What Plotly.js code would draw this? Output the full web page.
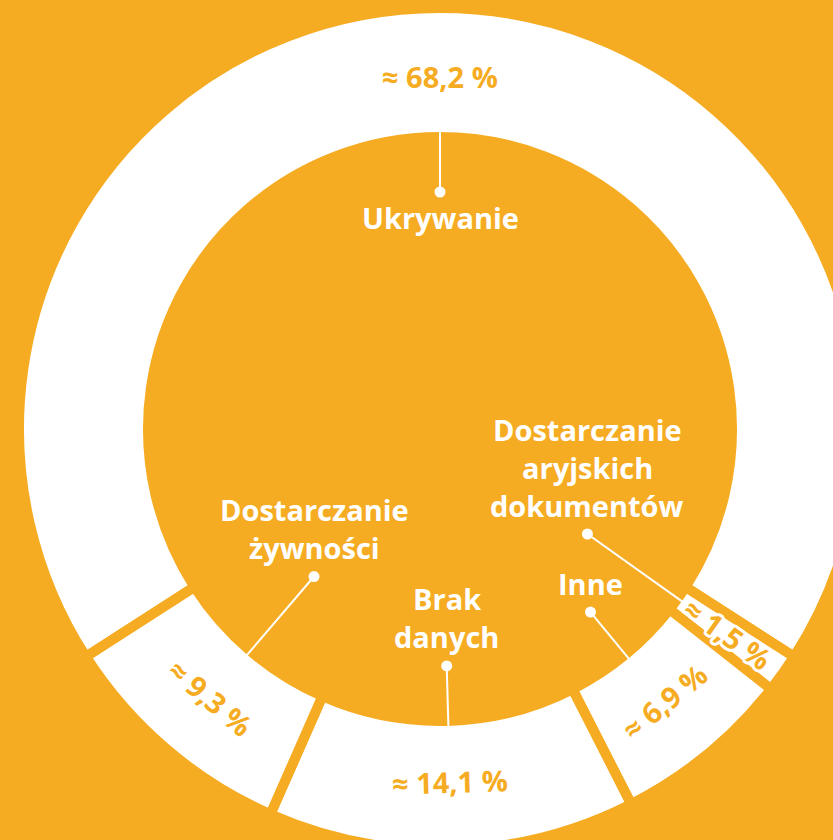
<!DOCTYPE html>
<html>
<head>
<meta charset="utf-8">
<script src="https://cdn.plot.ly/plotly-3.0.1.min.js"></script>
<style>
  html, body { margin: 0; padding: 0; overflow: hidden; background: #F6AC22; width: 833px; height: 840px; }
  #chart { width: 880px; height: 860px; }
</style>
</head>
<body>
<div id="chart"></div>
<script>
// ---- data ----
const categories = ['Ukrywanie', 'Dostarczanie<br>aryjskich<br>dokumentów', 'Inne', 'Brak<br>danych', 'Dostarczanie<br>żywności'];
const shares = [68.2, 1.5, 6.9, 14.1, 9.3];

// ---- layout / style config ----
const ORANGE = '#F6AC22';
const W = 880, H = 860;          // figure size (page clips to 833x840)
const CX = 440, CY = 429;        // donut centre in px from top-left
const R_OUT = 416, R_IN = 297;   // visible radii
const GAP = 10;                  // gap between slices
const dotRadius = [237, 181, 237, 237, 194];
const labelBelowDot = [true, false, false, false, false];
const pctOrient = ['tangential', 'radial', 'tangential', 'tangential', 'tangential'];
const PCT_R = 353;
const LINE_H = 38;
const labelFont = { family: 'Open Sans, sans-serif', size: 29, color: 'white', weight: 700 };
const pctFont = { family: 'Open Sans, sans-serif', size: 29, color: ORANGE, weight: 700 };

const total = shares.reduce((a, b) => a + b, 0);
const rotation = -shares[0] / total * 180;
const mids = [];
let cum = rotation;
shares.forEach(v => { const span = v / total * 360; mids.push(cum + span / 2); cum += span; });

const rad = d => d * Math.PI / 180;
const pt = (r, deg) => [r * Math.sin(rad(deg)), r * Math.cos(rad(deg))]; // y up

const Rdraw = R_OUT + GAP / 2;
const Rin = R_IN - GAP / 2;
const dom = {
  x: [(CX - Rdraw) / W, (CX + Rdraw) / W],
  y: [((H - CY) - Rdraw) / H, ((H - CY) + Rdraw) / H]
};

const pie = {
  type: 'pie',
  values: shares,
  labels: categories,
  sort: false,
  direction: 'clockwise',
  rotation: rotation,
  hole: Rin / Rdraw,
  domain: dom,
  marker: { colors: shares.map(() => 'white'), line: { color: ORANGE, width: GAP } },
  textinfo: 'none',
  hoverinfo: 'none',
  showlegend: false
};

const dots = mids.map((m, i) => pt(dotRadius[i], m));
const dotTrace = {
  type: 'scatter', mode: 'markers',
  x: dots.map(d => d[0]), y: dots.map(d => d[1]),
  marker: { color: 'white', size: 11 },
  hoverinfo: 'none', showlegend: false
};

const shapes = mids.map((m, i) => {
  const e = pt(R_IN + 1, m);
  return { type: 'line', xref: 'x', yref: 'y', x0: dots[i][0], y0: dots[i][1], x1: e[0], y1: e[1],
           line: { color: 'white', width: 2 }, layer: 'above' };
});

const annotations = [];
categories.forEach((c, i) => {
  const lines = c.split('<br>');
  const n = lines.length;
  lines.forEach((ln, j) => {
    let y;
    if (labelBelowDot[i]) y = dots[i][1] - 25 - j * LINE_H;
    else y = dots[i][1] + 29 + (n - 1 - j) * LINE_H;
    annotations.push({ xref: 'x', yref: 'y', x: dots[i][0], y: y, text: ln, showarrow: false,
                       xanchor: 'center', yanchor: 'middle', font: labelFont });
  });
});

const halo = [];
for (let a = 0; a < 360; a += 30) {
  halo.push((3 * Math.cos(rad(a))).toFixed(1) + 'px ' + (3 * Math.sin(rad(a))).toFixed(1) + 'px 0 white');
}
shares.forEach((v, i) => {
  const p = pt(PCT_R, mids[i]);
  let ang;
  if (pctOrient[i] === 'radial') ang = mids[i] - 90;
  else {
    let a = ((mids[i] + 180) % 360 + 360) % 360 - 180;
    if (a > 90) a -= 180; else if (a < -90) a += 180;
    ang = a;
  }
  const f = Object.assign({}, pctFont);
  if (pctOrient[i] === 'radial') f.shadow = halo.join(', ');
  annotations.push({ xref: 'x', yref: 'y', x: p[0], y: p[1],
    text: '≈ ' + v.toFixed(1).replace('.', ',') + ' %', showarrow: false,
    xanchor: 'center', yanchor: 'middle', textangle: ang, font: f });
});

const layout = {
  width: W, height: H,
  margin: { l: 0, r: 0, t: 0, b: 0, pad: 0 },
  paper_bgcolor: ORANGE, plot_bgcolor: 'rgba(0,0,0,0)',
  showlegend: false,
  xaxis: { range: [-CX, W - CX], visible: false, fixedrange: true },
  yaxis: { range: [-(H - CY), CY], visible: false, fixedrange: true },
  shapes: shapes,
  annotations: annotations
};

Plotly.newPlot('chart', [dotTrace, pie], layout, { staticPlot: true, displayModeBar: false });
</script>
</body>
</html>
